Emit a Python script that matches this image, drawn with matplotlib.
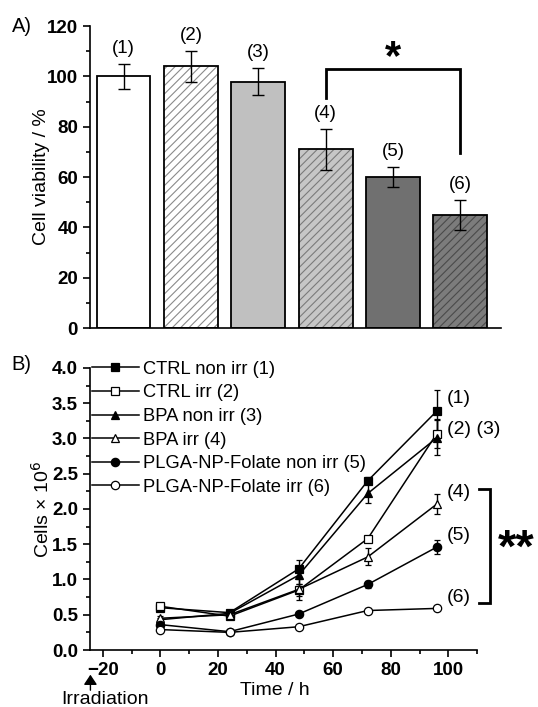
import matplotlib
matplotlib.use("Agg")
import matplotlib.pyplot as plt
from matplotlib.lines import Line2D
from matplotlib.ticker import MultipleLocator, FormatStrFormatter

plt.rcParams["font.family"] = ["Liberation Sans", "DejaVu Sans"]
plt.rcParams["hatch.linewidth"] = 0.8

# ---- panel A: cell viability ----
bar_labels = ["(1)", "(2)", "(3)", "(4)", "(5)", "(6)"]
viability = [100, 104, 98, 71, 60, 45]
viability_err = [5, 6, 5.5, 8, 4, 6]
bar_fill = ["white", "white", "#c0c0c0", "#c6c6c6", "#707070", "#7c7c7c"]
bar_hatch = ["", "////", "", "////", "", "////"]
hatch_col = ["white", "#8a8a8a", "#c0c0c0", "#7a7a7a", "#707070", "#4a4a4a"]

# ---- panel B: cell growth ----
time_h = [0, 24, 48, 72, 96]
series_names = ["CTRL non irr (1)", "CTRL irr (2)", "BPA non irr (3)",
                "BPA irr (4)", "PLGA-NP-Folate non irr (5)", "PLGA-NP-Folate irr (6)"]
ctrl_non = [0.60, 0.53, 1.15, 2.40, 3.39]
ctrl_non_err = [0.03, 0.03, 0.12, 0.05, 0.30]
ctrl_irr = [0.62, 0.48, 0.85, 1.58, 3.07]
ctrl_irr_err = [0.02, 0.03, 0.08, 0.04, 0.20]
bpa_non = [0.43, 0.52, 1.06, 2.22, 3.01]
bpa_non_err = [0.02, 0.05, 0.12, 0.14, 0.25]
bpa_irr = [0.45, 0.50, 0.86, 1.32, 2.07]
bpa_irr_err = [0.03, 0.04, 0.15, 0.12, 0.14]
plga_non = [0.36, 0.26, 0.51, 0.93, 1.46]
plga_non_err = [0.02, 0.02, 0.02, 0.05, 0.10]
plga_irr = [0.29, 0.25, 0.33, 0.56, 0.59]
plga_irr_err = [0.02, 0.02, 0.03, 0.03, 0.02]
markers = ["s", "s", "^", "^", "o", "o"]
filled = [True, False, True, False, True, False]
end_labels = ["(1)", "(2) (3)", "(4)", "(5)", "(6)"]
end_label_y = [3.57, 3.12, 2.24, 1.63, 0.74]

TICK_FS = 13.5
LABEL_FS = 14

fig = plt.figure(figsize=(5.38, 7.07), dpi=100)

# ================= A =================
axA = fig.add_axes([0.167, 0.536, 0.764, 0.427])
x = list(range(1, 7))
# hatch / fill first, black outline on top
axA.bar(x, viability, width=0.8, color=bar_fill, edgecolor=hatch_col,
        linewidth=0, hatch=bar_hatch, zorder=2)
axA.bar(x, viability, width=0.8, fill=False, edgecolor="black", linewidth=1.3, zorder=3)
axA.errorbar(x, viability, yerr=viability_err, fmt="none", ecolor="black",
             elinewidth=1.0, capsize=4, capthick=1.0, zorder=4)
for xi, v, e, lab in zip(x, viability, viability_err, bar_labels):
    axA.annotate(lab, (xi, v + e), xytext=(0, 5), textcoords="offset points",
                 ha="center", va="bottom", fontsize=13.5)

# significance bracket 4 vs 6
axA.plot([4, 4, 6, 6], [91.5, 102.8, 102.8, 69.5], color="black", lw=2.0,
         solid_joinstyle="miter", zorder=5)
axA.text(5, 107.5, "*", ha="center", va="center", fontsize=30, fontweight="bold")

axA.set_xlim(0.5, 6.6)
axA.set_ylim(0, 120)
axA.set_xticks([])
axA.yaxis.set_major_locator(MultipleLocator(20))
axA.yaxis.set_minor_locator(MultipleLocator(10))
axA.tick_params(axis="y", which="major", length=5, width=1.2, labelsize=TICK_FS)
axA.tick_params(axis="y", which="minor", length=3, width=1.2)
for t in axA.get_yticklabels():
    t.set_fontweight("bold")
axA.set_ylabel("Cell viability / %", fontsize=LABEL_FS)
axA.yaxis.set_label_coords(-0.097, 0.5)
axA.spines[["top", "right"]].set_visible(False)
axA.spines["left"].set_linewidth(1.2)
axA.spines["bottom"].set_linewidth(1.2)
fig.text(0.022, 0.963, "A)", fontsize=14.5, va="center", ha="left")

# ================= B =================
axB = fig.add_axes([0.167, 0.0806, 0.720, 0.399])
ys = [ctrl_non, ctrl_irr, bpa_non, bpa_irr, plga_non, plga_irr]
errs = [ctrl_non_err, ctrl_irr_err, bpa_non_err, bpa_irr_err, plga_non_err, plga_irr_err]
handles = []
for name, y, e, m, f in zip(series_names, ys, errs, markers, filled):
    face = "black" if f else "white"
    axB.errorbar(time_h, y, yerr=e, color="black", lw=1.1, marker=m, markersize=6,
                 markerfacecolor=face, markeredgecolor="black",
                 markeredgewidth=0.9, elinewidth=1.0, capsize=2.5, capthick=1.0)
    handles.append(Line2D([], [], color="black", lw=1.1, marker=m, markersize=6,
                          markerfacecolor=face, markeredgecolor="black",
                          markeredgewidth=0.9, label=name))

for lab, ly in zip(end_labels, end_label_y):
    axB.text(99.5, ly, lab, ha="left", va="center", fontsize=14)
axB.plot([110.5, 114.6, 114.6, 110.5], [2.28, 2.28, 0.67, 0.67], color="black",
         lw=2.0, clip_on=False, solid_joinstyle="miter")
axB.text(123.5, 1.42, "**", ha="center", va="center", fontsize=34,
         fontweight="bold", clip_on=False)

axB.legend(handles=handles, loc="upper left", bbox_to_anchor=(0.005, 1.025),
           frameon=False, fontsize=13.2, handlelength=2.55, handletextpad=0.22,
           labelspacing=0.36, borderpad=0, borderaxespad=0)

axB.set_xlim(-24.5, 110)
axB.set_ylim(0, 4.0)
axB.set_xticks([-20, 0, 20, 40, 60, 80, 100])
axB.xaxis.set_minor_locator(MultipleLocator(10))
axB.yaxis.set_major_locator(MultipleLocator(0.5))
axB.yaxis.set_minor_locator(MultipleLocator(0.25))
axB.yaxis.set_major_formatter(FormatStrFormatter("%.1f"))
axB.tick_params(which="major", length=5, width=1.2, labelsize=TICK_FS)
axB.tick_params(which="minor", length=3, width=1.2)
for t in axB.get_xticklabels() + axB.get_yticklabels():
    t.set_fontweight("bold")
axB.set_xlabel("Time / h", fontsize=LABEL_FS)
axB.xaxis.set_label_coords(0.478, -0.113)
axB.set_ylabel("Cells \u00d7 10$^{6}$", fontsize=LABEL_FS)
axB.yaxis.set_label_coords(-0.096, 0.5)
axB.spines[["top", "right"]].set_visible(False)
axB.spines["left"].set_linewidth(1.2)
axB.spines["bottom"].set_linewidth(1.2)
fig.text(0.022, 0.484, "B)", fontsize=14.5, va="center", ha="left")

# irradiation marker at -24 h
axB.annotate("", xy=(-24.3, -0.35), xytext=(-24.3, -0.57), xycoords="data",
             arrowprops=dict(arrowstyle="-|>,head_width=0.4,head_length=0.6",
                             color="black", lw=1.0, shrinkA=0, shrinkB=0),
             annotation_clip=False)
axB.text(-19.3, -0.76, "Irradiation", ha="center", va="baseline", fontsize=14,
         clip_on=False)

fig.savefig("out.png", dpi=100)
